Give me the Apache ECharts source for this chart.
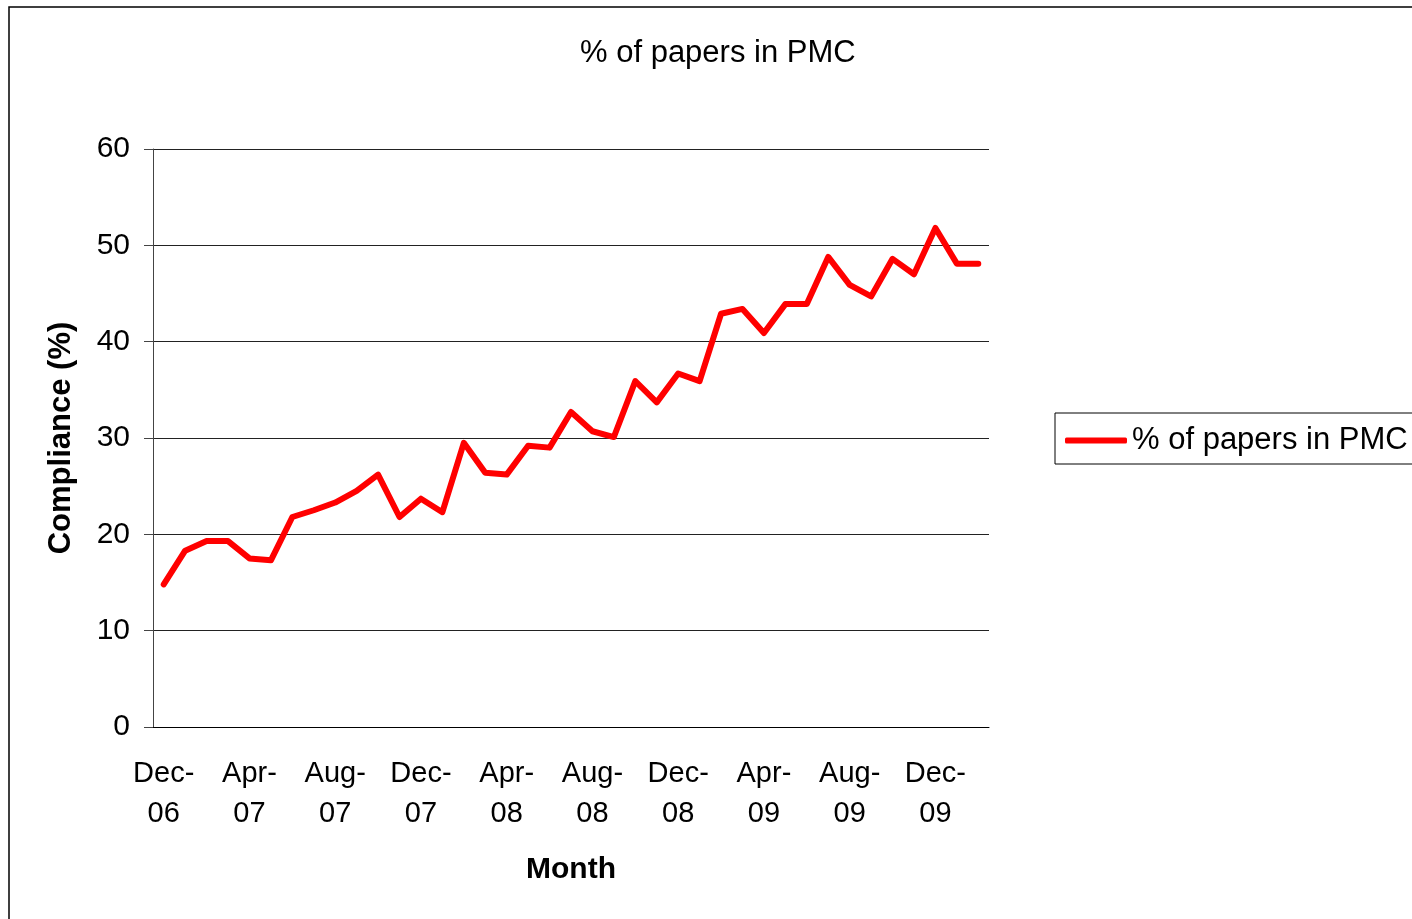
<!DOCTYPE html>
<html>
<head>
<meta charset="utf-8">
<script src="https://cdn.jsdelivr.net/npm/echarts@6/dist/echarts.min.js"></script>
<style>
  html, body { margin: 0; padding: 0; background: #fff; }
  #chart { width: 1412px; height: 919px; }
</style>
</head>
<body>
<div id="chart"></div>
<script>
// months Dec-06 .. Feb-10
const months = [
  'Dec-06', 'Jan-07', 'Feb-07', 'Mar-07', 'Apr-07', 'May-07', 'Jun-07', 'Jul-07',
  'Aug-07', 'Sep-07', 'Oct-07', 'Nov-07', 'Dec-07', 'Jan-08', 'Feb-08', 'Mar-08',
  'Apr-08', 'May-08', 'Jun-08', 'Jul-08', 'Aug-08', 'Sep-08', 'Oct-08', 'Nov-08',
  'Dec-08', 'Jan-09', 'Feb-09', 'Mar-09', 'Apr-09', 'May-09', 'Jun-09', 'Jul-09',
  'Aug-09', 'Sep-09', 'Oct-09', 'Nov-09', 'Dec-09', 'Jan-10', 'Feb-10'
];
const pmcPercent = [
  14.8, 18.3, 19.3, 19.3, 17.5, 17.3, 21.8, 22.5, 23.3, 24.5,
  26.2, 21.8, 23.7, 22.3, 29.5, 26.4, 26.2, 29.2, 29.0, 32.7,
  30.7, 30.1, 35.9, 33.7, 36.7, 35.9, 42.9, 43.4, 40.9, 43.9,
  43.9, 48.8, 45.9, 44.7, 48.6, 47.0, 51.8, 48.1, 48.1
];
const yTicks = [0, 10, 20, 30, 40, 50, 60];

const font = 'Liberation Sans, Arial, sans-serif';
const chart = echarts.init(document.getElementById('chart'));

const option = {
  backgroundColor: '#fff',
  animation: false,
  title: {
    text: '% of papers in PMC',
    left: 580,
    top: 38,
    padding: 0,
    textStyle: { fontFamily: font, fontSize: 31, fontWeight: 'normal', color: '#000' }
  },
  legend: {
    left: 1055,
    top: 413,
    padding: [12, 10, 8, 10],
    borderColor: '#000',
    borderWidth: 1,
    itemWidth: 62,
    itemHeight: 6,
    icon: 'roundRect',
    textStyle: { fontFamily: font, fontSize: 31, color: '#000' },
    data: ['% of papers in PMC']
  },
  graphic: [{
    type: 'rect',
    shape: { x: 9, y: 7, width: 1500, height: 1000 },
    style: { fill: 'none', stroke: '#000', lineWidth: 1.5 },
    silent: true
  }],
  grid: { left: 153, right: 423, top: 149, bottom: 192 },
  xAxis: {
    type: 'category',
    data: months,
    boundaryGap: true,
    name: 'Month',
    nameLocation: 'middle',
    nameGap: 128,
    nameTextStyle: { fontFamily: font, fontSize: 30, fontWeight: 'bold', color: '#000' },
    axisLine: { lineStyle: { color: '#000', width: 1 } },
    axisTick: { interval: 3, length: 9, lineStyle: { color: '#000' } },
    axisLabel: {
      interval: 3,
      margin: 27,
      fontFamily: font,
      fontSize: 29,
      lineHeight: 40,
      color: '#000',
      formatter: (v) => v.replace('-', '-\n')
    },
    splitLine: { show: false }
  },
  yAxis: {
    type: 'value',
    min: yTicks[0],
    max: yTicks[yTicks.length - 1],
    interval: 10,
    name: 'Compliance (%)',
    nameLocation: 'middle',
    nameRotate: 90,
    nameGap: 76,
    nameTextStyle: { fontFamily: font, fontSize: 31, fontWeight: 'bold', color: '#000' },
    axisLine: { show: true, lineStyle: { color: '#444', width: 1 } },
    axisTick: { show: true, length: 9, lineStyle: { color: '#444' } },
    axisLabel: { margin: 23, fontFamily: font, fontSize: 30, color: '#000' },
    splitLine: { lineStyle: { color: '#222', width: 1 } }
  },
  series: [{
    name: '% of papers in PMC',
    type: 'line',
    data: pmcPercent,
    symbol: 'none',
    color: '#ff0000',
    lineStyle: { color: '#ff0000', width: 6, cap: 'round', join: 'round' }
  }]
};

chart.setOption(option);
</script>
</body>
</html>
